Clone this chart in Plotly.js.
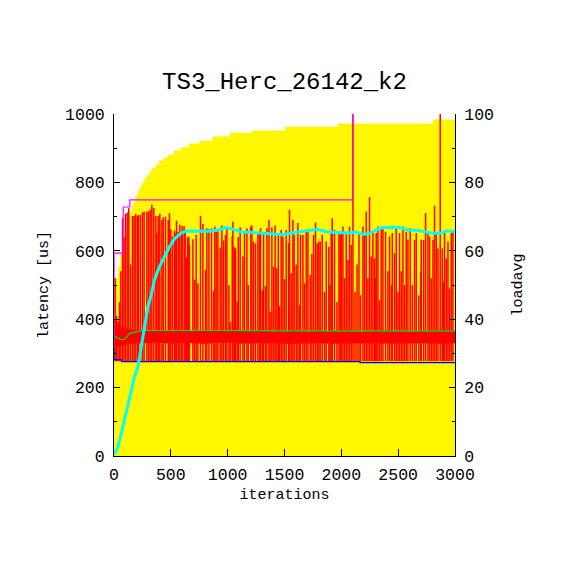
<!DOCTYPE html>
<html>
<head>
<meta charset="utf-8">
<script src="https://cdn.plot.ly/plotly-3.0.1.min.js"></script>
<style>html,body{margin:0;padding:0;background:#fff;}#chart{width:570px;height:570px;}</style>
</head>
<body>
<div id="chart"></div>
<script>
// Upper envelope (yellow filled steps), latency [us]
const envIt  = [0,35,55,70,85,100,110,125,139,154,169,189,207,219,236,254,271,289,312,330,365,394,436,477,524,588,658,752,867,1019,1215,1505,1970,2807,3000];
const envLat = [520,555,590,620,645,665,676,700,715,730,741,761,774,783,793,803,813,822,832,842,852,864,873,881,893,903,914,922,934,945,952,963,972,984,984];

// Dense latency band (red)
const bandIt = [0,30,60,100,150,200,300,400,500,600,700,800,900,1000,1100,1200,1300,1400,1500,1600,1700,1800,1900,2000,2100,2200,2300,2400,2500,2600,2700,2800,2900,3000];
const bandLo = [322,318,322,326,329,330,330,332,329,331,330,328,331,332,329,330,331,330,328,329,331,330,329,328,330,331,330,329,330,331,330,329,328,330];
const bandHi = [400,388,378,372,369,368,366,369,364,367,365,366,368,364,367,365,368,363,366,367,364,366,364,368,365,363,366,367,365,364,366,365,368,366];

// Latency spikes (red)
const spikeBase = 277;
const spikeIt = [
  10,22,35,48,60,75,88,101,116,130,
  146,163,177,192,207,216,233,251,265,289,
  304,318,333,350,368,377,389,403,421,433,
  453,477,488,500,515,532,544,550,565,579,
  594,600,617,626,636,647,658,
  664,694,708,723,738,761,782,805,817,835,
  858,876,887,899,914,934,949,964,981,993,
  1011,1022,1040,1046,1058,1069,1084,1093,1110,1134,
  1148,1169,1181,1204,1213,1228,1245,1266,1280,1289,
  1304,1316,1333,1345,1363,1374,1389,1404,1418,1433,
  1445,1456,1471,1486,1500,1515,1536,1544,1559,1574,
  1585,1603,1618,1632,1641,1662,1676,1691,1706,1726,
  1741,1756,1773,1788,1802,
  1814,1832,1852,1867,1890,1900,1911,1920,1940,1961,
  1979,1990,1999,2014,2028,2043,2058,2072,2087,2102,
  2120,2138,2155,2169,2190,2204,2219,2234,2248,2263,
  2278,2292,2300,2307,2322,2336,2351,2366,2389,2410,
  2424,2440,2448,2468,2483,2498,2512,2527,2542,2556,
  2571,2586,2606,2624,2644,2659,2682,2700,2703,2724,
  2741,2762,2776,2791,2806,2820,2835,2850,2870,2888,
  2900,2908,2923,2938,2952,2967,2982];
const spikeTop = [
  520,410,395,450,540,695,640,708,712,725,
  560,702,702,708,702,705,705,712,715,715,
  715,720,735,725,702,651,702,708,690,698,
  700,690,710,663,642,659,650,688,655,676,
  654,673,672,661,580,639,642,
  617,634,515,647,505,702,679,544,666,663,
  666,483,671,656,663,609,674,630,647,666,
  500,392,642,685,612,607,451,640,669,583,
  656,666,500,671,674,627,622,652,656,666,
  485,654,497,666,691,422,669,554,674,549,
  652,438,661,642,517,661,622,720,534,691,
  647,559,681,441,647,647,505,656,656,529,
  591,647,683,622,627,
  627,647,480,627,612,500,652,695,661,450,
  656,647,652,671,520,652,573,671,617,1100,
  480,560,652,470,671,647,715,520,757,583,
  661,578,520,652,671,455,666,671,656,540,
  642,500,652,593,666,480,652,540,671,500,
  656,632,666,500,632,652,470,540,632,632,
  710,656,642,520,632,732,652,607,1100,607,
  510,652,578,627,490,652,661];

// Running min (blue), running average (green), running max (magenta)
const minIt  = [0,0,67,67,2165,2165,3000];
const minLat = [318,282,282,276,276,273,273];
const avgIt  = [0,4,34,63,92,136,194,253,400,700,1000,1500,2000,2500,3000];
const avgLat = [352,350,345,340,341,358,363,367,367,366,367,366,366,365,365];
const maxIt  = [0,0,81,81,139,139,2100,2100];
const maxLat = [330,593,593,728,728,749,749,1100];

// Load average (cyan, right axis)
const loadIt = [0,34,63,92,122,151,180,210,239,268,298,327,356,400,444,488,532,591,635,708,840,913,987,1045,1104,1280,1397,1485,1573,1645,1749,1793,1867,1955,2043,2131,2189,2248,2336,2424,2512,2585,2688,2776,2864,2923,3000];
const loadAvg = [0.5,2.6,6.5,10.4,15.3,19.2,23.1,26,31.9,38.8,43.6,47,51.5,55.4,58.3,61.2,63.5,65.2,65.8,65.7,65.7,66.1,66.8,66.4,65.6,65.2,64.9,64.7,65.3,65.6,66.1,66.3,65.6,65.3,65.2,65.5,64.8,65.1,66.6,66.9,66.8,66.1,65.9,65.3,65.1,65.8,65.7];

const FONT = 'Liberation Mono, DejaVu Sans Mono, monospace';

const sx = [], sy = [];
for (let i = 0; i < spikeIt.length; i++) {
  sx.push(spikeIt[i], spikeIt[i], null);
  sy.push(spikeBase, spikeTop[i], null);
}

const traces = [
  {x: envIt, y: envLat, type: 'scatter', mode: 'lines', line: {shape: 'hv', width: 0, color: '#fff700'},
   fill: 'tozeroy', fillcolor: '#fff700', hoverinfo: 'skip', showlegend: false},
  {x: bandIt, y: bandLo, type: 'scatter', mode: 'lines', line: {width: 0, color: '#ff0000'}, showlegend: false},
  {x: bandIt, y: bandHi, type: 'scatter', mode: 'lines', line: {width: 0, color: '#ff0000'},
   fill: 'tonexty', fillcolor: '#ff0000', showlegend: false},
  {x: sx, y: sy, type: 'scatter', mode: 'lines', line: {width: 1.5, color: '#ff0000'}, connectgaps: false, showlegend: false},
  {x: minIt, y: minLat, type: 'scatter', mode: 'lines', line: {width: 1.2, color: '#0000ff'}, showlegend: false},
  {x: avgIt, y: avgLat, type: 'scatter', mode: 'lines', line: {width: 1.2, color: '#00e000'}, showlegend: false},
  {x: maxIt, y: maxLat, type: 'scatter', mode: 'lines', line: {width: 1.2, color: '#ff00ff'}, showlegend: false},
  {x: loadIt, y: loadAvg, type: 'scatter', mode: 'lines', yaxis: 'y2', line: {width: 3, color: '#00ffff'}, showlegend: false}
];

const axisCommon = {
  showgrid: false, zeroline: false, showline: true, linecolor: '#000', linewidth: 1,
  ticks: 'inside', tickcolor: '#000', tickwidth: 1,
  tickfont: {family: FONT, size: 16.5, color: '#000'}
};

const layout = {
  width: 570, height: 570,
  margin: {l: 114, r: 115, t: 114, b: 114, pad: 0},
  paper_bgcolor: '#fff', plot_bgcolor: '#fff',
  showlegend: false,
  title: {text: 'TS3_Herc_26142_k2', font: {family: FONT, size: 24, color: '#000'},
          x: 0.5, xref: 'paper', xanchor: 'center', y: 1 - 81/570, yref: 'container', yanchor: 'middle'},
  xaxis: Object.assign({}, axisCommon, {
    range: [0, 3000], dtick: 500, tick0: 0, ticklen: 7, ticklabelstandoff: 3,
    title: {text: 'iterations', font: {family: FONT, size: 15, color: '#000'}, standoff: 4}
  }),
  yaxis: Object.assign({}, axisCommon, {
    range: [0, 1000], dtick: 200, tick0: 0, ticklen: 6, ticklabelstandoff: 5,
    minor: {dtick: 100, ticks: 'inside', ticklen: 3, tickcolor: '#000', tickwidth: 1, showgrid: false},
    title: {text: 'latency [us]', font: {family: FONT, size: 15, color: '#000'}, standoff: 12}
  }),
  yaxis2: Object.assign({}, axisCommon, {
    overlaying: 'y', side: 'right', anchor: 'x',
    range: [0, 100], dtick: 20, tick0: 0, ticklen: 6, ticklabelstandoff: 5,
    minor: {dtick: 10, ticks: 'inside', ticklen: 3, tickcolor: '#000', tickwidth: 1, showgrid: false},
    title: {text: 'loadavg', font: {family: FONT, size: 15, color: '#000'}, standoff: 18}
  })
};

Plotly.newPlot('chart', traces, layout, {displayModeBar: false, staticPlot: true});
</script>
</body>
</html>
